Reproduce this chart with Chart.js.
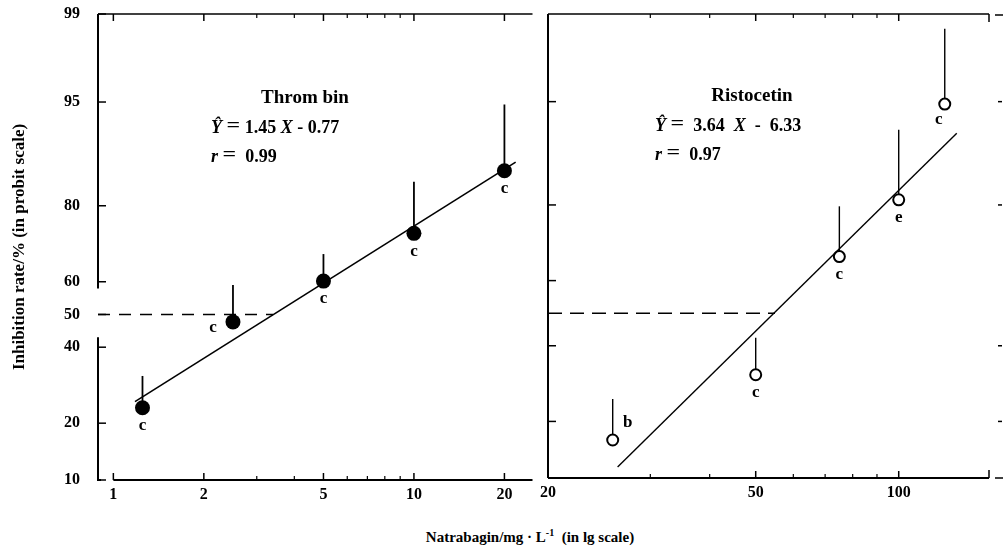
<!DOCTYPE html>
<html>
<head>
<meta charset="utf-8">
<script src="https://cdn.jsdelivr.net/npm/chart.js@4.4.1/dist/chart.umd.min.js"></script>
<style>
  html, body { margin: 0; padding: 0; background: #fff; }
  body { width: 1004px; height: 554px; position: relative; overflow: hidden; font-family: "Liberation Serif", "DejaVu Serif", serif; color: #000; }
  .box { position: absolute; top: 0; }
  #boxL { left: 0; width: 540px; height: 512px; }
  #boxR { left: 540px; width: 464px; height: 510px; }
  .txt { position: absolute; font-weight: bold; font-size: 18px; white-space: pre; line-height: 1; }
  .c { transform: translateX(-50%); }
  .eq { font-size: 24px; display: inline-block; transform: scaleY(0.8); }
  sup { font-size: 10px; vertical-align: 6px; }
</style>
</head>
<body>
<div class="box" id="boxL"><canvas id="cL"></canvas></div>
<div class="box" id="boxR"><canvas id="cR"></canvas></div>

<div class="txt c" style="left:305px; top:87px; font-size:19px;">Throm bin</div>
<div class="txt" style="left:211px; top:113px;"><i>Ŷ</i> <span class="eq">=</span> 1.45 <i>X</i> - 0.77</div>
<div class="txt" style="left:211px; top:142px;"><i>r</i> <span class="eq">=</span>  0.99</div>

<div class="txt c" style="left:752px; top:85px; font-size:19px;">Ristocetin</div>
<div class="txt" style="left:655px; top:111px;"><i>Ŷ</i> <span class="eq">=</span>  3.64  <i>X</i>  -  6.33</div>
<div class="txt" style="left:655px; top:140px;"><i>r</i> <span class="eq">=</span>  0.97</div>

<div class="txt c" style="left:530px; top:528px; font-size:15px;">Natrabagin/mg · L<sup>-1</sup>  (in lg scale)</div>

<script>
// ---------------- data ----------------
// Thrombin panel
const thrombinDose    = [1.25, 2.5, 5, 10, 20];          // mg/L
const thrombinRate    = [23.5, 47.7, 60.2, 73.5, 86.7];  // inhibition %
const thrombinUpper   = [31.7, 59.0, 68.0, 84.8, 94.8];  // mean + SD, %
const thrombinLetters = ['c', 'c', 'c', 'c', 'c'];
const thrombinFitDose = [1.18, 21.8];
const thrombinFitRate = [25.0, 88.1];
const thrombinHalfDose = 3.4;   // dose where the fit meets 50 %

// Ristocetin panel
const ristoDose    = [25, 50, 75, 100, 125];
const ristoRate    = [16.2, 31.6, 67.0, 81.1, 94.8];
const ristoUpper   = [25.2, 42.4, 79.7, 92.3, 98.65];
const ristoLetters = ['b', 'c', 'c', 'e', 'c'];
const ristoFitDose = [25.6, 132.5];
const ristoFitRate = [11.6, 91.9];
const ristoHalfDose = 54.9;

// axes
const yTickPct    = [10, 20, 40, 50, 60, 80, 95, 99];
const yTickLabels = ['10', '20', '40', '50', '60', '80', '95', '99'];
const yRangePct   = [10, 99];
const xRangeL     = [0.889, 24.8];
const xTicksL     = [1, 2, 5, 10, 20];
const xLabelsL    = ['1', '2', '5', '10', '20'];
const xMinorL     = [3, 4, 6, 7, 8, 9];
const xRangeR     = [18.27, 154.9];
const xTicksR     = [18.27, 50, 100];
const xLabelsR    = ['20', '50', '100'];
const xMinorR     = [30, 40, 60, 70, 80, 90];
const yInnerTicksR = [20, 40, 60, 80, 95];
const yOuterTicksR = [20, 40, 80, 95];
const yAxisGapL    = [58, 43];   // break in the left axis line (percent)

// ---------------- styles ----------------
const labelPosL = ['below', 'left', 'below', 'below', 'below'];
const labelPosR = ['right', 'below', 'below', 'below', 'belowL'];
const labelOffsets = { below: [0, 18], left: [-20, 6], right: [15, -17], belowL: [-6, 16] };
const FONT = '"Liberation Serif", "DejaVu Serif", serif';

// probit transform (inverse standard normal CDF)
function probit(p) {
  const a = [-3.969683028665376e+01, 2.209460984245205e+02, -2.759285104469687e+02, 1.383577518672690e+02, -3.066479806614716e+01, 2.506628277459239e+00];
  const b = [-5.447609879822406e+01, 1.615858368580409e+02, -1.556989798598866e+02, 6.680131188771972e+01, -1.328068155288572e+01];
  const c = [-7.784894002430293e-03, -3.223964580411365e-01, -2.400758277161838e+00, -2.549732539343734e+00, 4.374664141464968e+00, 2.938163982698783e+00];
  const d = [7.784695709041462e-03, 3.224671290700398e-01, 2.445134137142996e+00, 3.754408661907416e+00];
  const pl = 0.02425, ph = 1 - pl;
  let q, r;
  if (p < pl) {
    q = Math.sqrt(-2 * Math.log(p));
    return (((((c[0]*q+c[1])*q+c[2])*q+c[3])*q+c[4])*q+c[5]) / ((((d[0]*q+d[1])*q+d[2])*q+d[3])*q+1);
  }
  if (p > ph) {
    q = Math.sqrt(-2 * Math.log(1 - p));
    return -(((((c[0]*q+c[1])*q+c[2])*q+c[3])*q+c[4])*q+c[5]) / ((((d[0]*q+d[1])*q+d[2])*q+d[3])*q+1);
  }
  q = p - 0.5; r = q * q;
  return (((((a[0]*r+a[1])*r+a[2])*r+a[3])*r+a[4])*r+a[5])*q / (((((b[0]*r+b[1])*r+b[2])*r+b[3])*r+b[4])*r+1);
}
const z = pct => probit(pct / 100);

function pts(xs, ys) { return xs.map((x, i) => ({ x: x, y: z(ys[i]) })); }

// ---------------- plugins ----------------
function line(ctx, x1, y1, x2, y2) { ctx.beginPath(); ctx.moveTo(x1, y1); ctx.lineTo(x2, y2); ctx.stroke(); }

function framePlugin(cfg) {
  return {
    id: 'frame',
    afterDraw(chart) {
      const { ctx, chartArea: ca, scales } = chart;
      const xs = scales.x, ys = scales.y;
      ctx.save();
      ctx.strokeStyle = '#000';
      ctx.lineCap = 'butt';
      // left axis
      ctx.lineWidth = 2;
      if (cfg.gap) {
        line(ctx, ca.left, ca.top, ca.left, ys.getPixelForValue(z(cfg.gap[0])));
        line(ctx, ca.left, ys.getPixelForValue(z(cfg.gap[1])), ca.left, ca.bottom);
      } else {
        line(ctx, ca.left, ca.top, ca.left, ca.bottom);
      }
      // bottom axis
      if (cfg.bottomFrom != null) {
        line(ctx, ca.left - 1, ca.bottom, ca.left + 3, ca.bottom);
        line(ctx, xs.getPixelForValue(cfg.bottomFrom), ca.bottom, ca.right, ca.bottom);
      } else {
        line(ctx, ca.left, ca.bottom, ca.right, ca.bottom);
      }
      // top axis
      ctx.lineWidth = 1.6;
      line(ctx, ca.left, ca.top, ca.right, ca.top);
      // right brackets
      if (cfg.rightBrackets) {
        ctx.lineWidth = 1.5;
        line(ctx, ca.right, ca.top, ca.right, ca.top + 8);
        line(ctx, ca.right, ca.bottom, ca.right, ca.bottom - 8);
        line(ctx, ca.right + 6, ca.top + 1, ca.right + 14, ca.top + 1);
        line(ctx, ca.right + 6, ca.bottom, ca.right + 14, ca.bottom);
        cfg.outerY.forEach(p => { const y = ys.getPixelForValue(z(p)); line(ctx, ca.right + 9, y, ca.right + 13, y); });
      }
      // y ticks (inward)
      ctx.lineWidth = 1.5;
      cfg.yTicks.forEach(p => { const y = ys.getPixelForValue(z(p)); line(ctx, ca.left, y, ca.left + 8, y); });
      // x ticks (inward, top and bottom)
      cfg.xMajor.forEach(v => {
        const x = xs.getPixelForValue(v);
        line(ctx, x, ca.bottom, x, ca.bottom - 7);
        line(ctx, x, ca.top, x, ca.top + 7);
      });
      ctx.lineWidth = 1.2;
      cfg.xMinor.forEach(v => {
        const x = xs.getPixelForValue(v);
        line(ctx, x, ca.bottom, x, ca.bottom - 4);
        line(ctx, x, ca.top, x, ca.top + 4);
      });
      ctx.restore();
    }
  };
}

function errPlugin(dose, upper, rate, width) {
  return {
    id: 'err',
    beforeDatasetsDraw(chart) {
      const { ctx, scales } = chart;
      ctx.save();
      ctx.strokeStyle = '#000';
      ctx.lineWidth = width;
      dose.forEach((d, i) => {
        const x = scales.x.getPixelForValue(d);
        line(ctx, x, scales.y.getPixelForValue(z(rate[i])), x, scales.y.getPixelForValue(z(upper[i])));
      });
      ctx.restore();
    }
  };
}

function letterPlugin(dose, rate, letters, pos) {
  return {
    id: 'letters',
    afterDatasetsDraw(chart) {
      const { ctx, scales } = chart;
      ctx.save();
      ctx.fillStyle = '#000';
      ctx.font = 'bold 17px ' + FONT;
      ctx.textAlign = 'center';
      ctx.textBaseline = 'middle';
      dose.forEach((d, i) => {
        const off = labelOffsets[pos[i]];
        ctx.fillText(letters[i], scales.x.getPixelForValue(d) + off[0], scales.y.getPixelForValue(z(rate[i])) + off[1]);
      });
      ctx.restore();
    }
  };
}

const tickFont = { family: FONT, size: 16, weight: 'bold' };
const noPad = s => { s.paddingTop = 0; s.paddingBottom = 0; s.paddingLeft = 0; s.paddingRight = 0; };

function baseOptions(o) {
  return {
    responsive: true,
    maintainAspectRatio: false,
    animation: false,
    events: [],
    layout: { padding: o.padding },
    plugins: { legend: { display: false }, tooltip: { enabled: false } },
    scales: {
      x: {
        type: 'logarithmic',
        min: o.xRange[0], max: o.xRange[1],
        afterBuildTicks: s => { s.ticks = o.xTicks.map(v => ({ value: v })); },
        afterFit: s => { s.height = 32; noPad(s); },
        grid: { display: false, drawTicks: false },
        border: { display: false },
        ticks: { callback: (v, i) => o.xLabels[i], autoSkip: false, maxRotation: 0, padding: 5, font: tickFont, color: '#000' }
      },
      y: {
        type: 'linear',
        min: z(yRangePct[0]), max: z(yRangePct[1]),
        afterBuildTicks: s => { s.ticks = yTickPct.map(p => ({ value: z(p) })); },
        afterFit: s => { s.width = o.yWidth; noPad(s); },
        grid: { display: false, drawTicks: false },
        border: { display: false },
        ticks: { display: o.yLabels, callback: (v, i) => yTickLabels[i], autoSkip: false, padding: 18, font: tickFont, color: '#000' },
        title: {
          display: o.yLabels,
          text: 'Inhibition rate/% (in probit scale)',
          color: '#000',
          font: { family: FONT, size: 17, weight: 'bold' },
          padding: { top: 9, bottom: 0 }
        }
      }
    }
  };
}

// ---------------- left chart: Thrombin ----------------
new Chart(document.getElementById('cL'), {
  type: 'scatter',
  data: {
    datasets: [
      { label: 'Thrombin', data: pts(thrombinDose, thrombinRate), pointRadius: 7.5, pointBackgroundColor: '#000', pointBorderColor: '#000', pointBorderWidth: 0 },
      { label: 'fit', data: pts(thrombinFitDose, thrombinFitRate), showLine: true, borderColor: '#000', borderWidth: 1.6, pointRadius: 0 },
      { label: '50%', data: [{ x: xRangeL[0], y: z(50) }, { x: thrombinHalfDose, y: z(50) }], showLine: true, borderColor: '#000', borderWidth: 1.5, borderDash: [12, 9], pointRadius: 0 }
    ]
  },
  options: baseOptions({ padding: { top: 14, right: 7, left: 0, bottom: 0 }, xRange: xRangeL, xTicks: xTicksL, xLabels: xLabelsL, yWidth: 98, yLabels: true }),
  plugins: [
    framePlugin({ bottomFrom: xTicksL[0], gap: yAxisGapL, yTicks: yTickPct, xMajor: xTicksL, xMinor: xMinorL, rightBrackets: false }),
    errPlugin(thrombinDose, thrombinUpper, thrombinRate, 1.8),
    letterPlugin(thrombinDose, thrombinRate, thrombinLetters, labelPosL)
  ]
});

// ---------------- right chart: Ristocetin ----------------
new Chart(document.getElementById('cR'), {
  type: 'scatter',
  data: {
    datasets: [
      { label: 'Ristocetin', data: pts(ristoDose, ristoRate), pointRadius: 5.5, pointBackgroundColor: '#fff', pointBorderColor: '#000', pointBorderWidth: 2 },
      { label: 'fit', data: pts(ristoFitDose, ristoFitRate), showLine: true, borderColor: '#000', borderWidth: 1.4, pointRadius: 0 },
      { label: '50%', data: [{ x: xRangeR[0], y: z(50) }, { x: ristoHalfDose, y: z(50) }], showLine: true, borderColor: '#000', borderWidth: 1.5, borderDash: [14, 8], pointRadius: 0 }
    ]
  },
  options: baseOptions({ padding: { top: 14, right: 15, left: 0, bottom: 0 }, xRange: xRangeR, xTicks: xTicksR, xLabels: xLabelsR, yWidth: 8, yLabels: false }),
  plugins: [
    framePlugin({ bottomFrom: null, gap: null, yTicks: yInnerTicksR, xMajor: xTicksR.slice(1), xMinor: xMinorR, rightBrackets: true, outerY: yOuterTicksR }),
    errPlugin(ristoDose, ristoUpper, ristoRate, 1.4),
    letterPlugin(ristoDose, ristoRate, ristoLetters, labelPosR)
  ]
});
</script>
</body>
</html>
